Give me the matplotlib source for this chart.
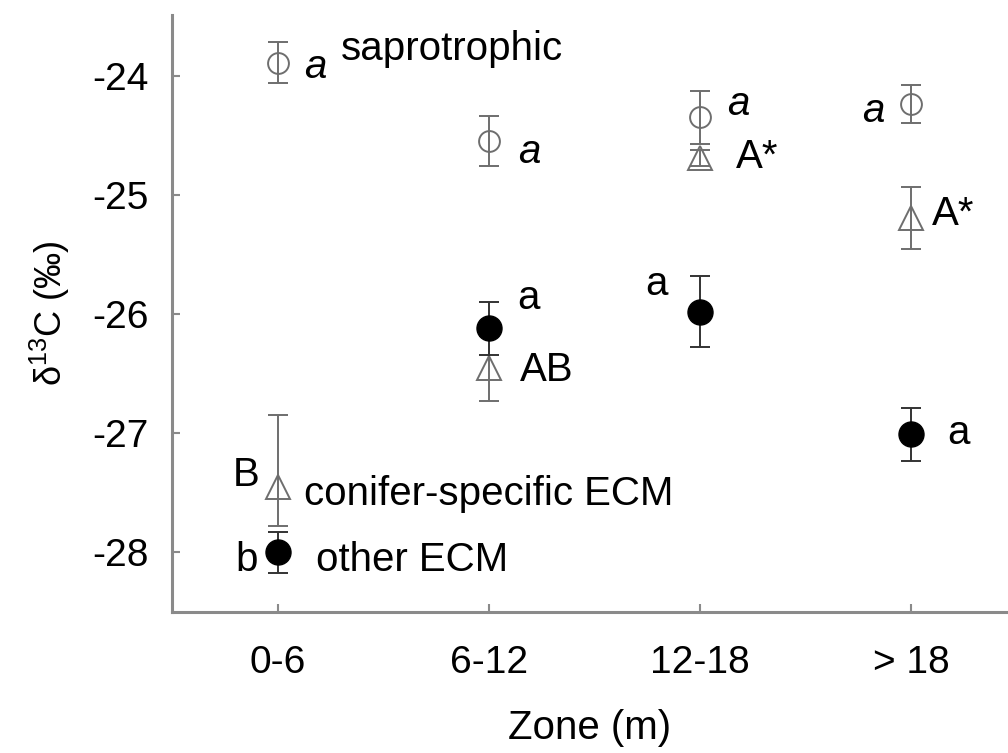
import numpy as np
import matplotlib
matplotlib.use('Agg')
import matplotlib.pyplot as plt

plt.rcParams['font.family'] = ['Liberation Sans', 'DejaVu Sans']
plt.rcParams['mathtext.fontset'] = 'custom'
plt.rcParams['mathtext.rm'] = 'Liberation Sans'

# 数据
zones = ['0-6', '6-12', '12-18', '> 18']
sapro_mean = [-23.89, -24.55, -24.35, -24.24]
sapro_err = [0.17, 0.21, 0.22, 0.16]
conifer_mean = [-27.45, -26.45, -24.69, -25.19]
conifer_lo = [0.33, 0.28, 0.07, 0.26]
conifer_hi = [0.60, 0.27, 0.07, 0.26]
other_mean = [-28.00, -26.12, -25.98, -27.01]
other_err = [0.17, 0.22, 0.30, 0.22]

x = np.arange(len(zones))
grey = '#6e6e6e'
spine_c = '#8a8a8a'
fs = 29

fig = plt.figure(figsize=(10.08, 7.53), dpi=100)
ax = fig.add_axes([172 / 1008, 1 - 612 / 753, 1 - 172 / 1008, 597 / 753])

# 空心符号不填充，误差线从中间穿过
ax.errorbar(x, sapro_mean, yerr=sapro_err, fmt='o', mfc='none', mec=grey,
            ms=15, mew=1.4, ecolor=grey, elinewidth=1.4, capsize=7, capthick=1.4, zorder=3)
ax.errorbar(x, conifer_mean, yerr=[conifer_lo, conifer_hi], fmt='^', mfc='none', mec=grey,
            ms=17, mew=1.4, ecolor=grey, elinewidth=1.4, capsize=7, capthick=1.4, zorder=3)
ax.errorbar(x, other_mean, yerr=other_err, fmt='o', mfc='black', mec='black',
            ms=18, ecolor='#333333', elinewidth=1.4, capsize=7, capthick=1.4, zorder=4)

ax.set_xlim(-0.5, 3.46)
ax.set_ylim(-28.5, -23.49)
ax.set_xticks(x)
ax.set_xticklabels(zones)
ax.set_yticks([-28, -27, -26, -25, -24])
ax.set_yticklabels(['-28', '-27', '-26', '-25', '-24'])
ax.tick_params(direction='in', length=6, width=1.5, color=spine_c, labelsize=28)
ax.tick_params(axis='x', pad=24)
ax.tick_params(axis='y', pad=17)

for s in ['top', 'right']:
    ax.spines[s].set_visible(False)
for s in ['left', 'bottom']:
    ax.spines[s].set_color(spine_c)
    ax.spines[s].set_linewidth(2.2)

ax.set_xlabel('Zone (m)', fontsize=29, labelpad=20)
ax.set_ylabel('δ$^{13}$C (‰)', fontsize=26, labelpad=14)

# 字母标注
def lab(xx, yy, s, italic=False):
    ax.text(xx, yy, s, fontsize=fs, va='baseline', ha='left',
            style='italic' if italic else 'normal')

lab(0.125, -24.02, 'a', True)
lab(0.298, -23.87, 'saprotrophic')
lab(1.14, -24.73, 'a', True)
lab(2.13, -24.33, 'a', True)
lab(2.17, -24.77, 'A*')
lab(2.77, -24.39, 'a', True)
lab(3.10, -25.25, 'A*')
lab(1.135, -25.96, 'a')
lab(1.15, -26.56, 'AB')
lab(1.74, -25.84, 'a')
lab(3.17, -27.09, 'a')
lab(-0.213, -27.445, 'B')
lab(0.123, -27.60, 'conifer-specific ECM')
lab(-0.20, -28.16, 'b')
lab(0.18, -28.16, 'other ECM')

fig.savefig('out.png', dpi=100)
